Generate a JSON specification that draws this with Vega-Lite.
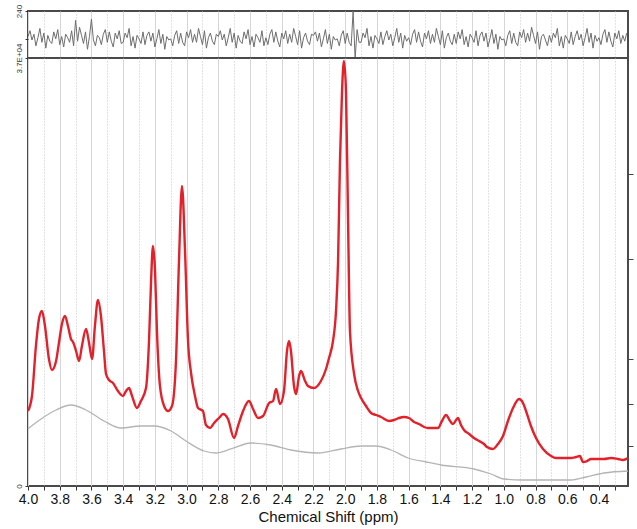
{
  "$schema": "https://vega.github.io/schema/vega-lite/v6.json",
  "background": "white",
  "padding": {"left": 5, "top": 3, "right": 2, "bottom": 2},
  "spacing": 0,
  "bounds": "flush",
  "config": {
    "view": {"stroke": "#4a4a4a", "strokeWidth": 2},
    "font": "Liberation Sans",
    "axis": {"labelFont": "Liberation Sans", "titleFont": "Liberation Sans"}
  },
  "datasets": {
    "fit": [
      {"ppm": 4.000, "v": 6484}, {"ppm": 3.975, "v": 7781}, {"ppm": 3.950, "v": 12103}, {"ppm": 3.931, "v": 14437},
      {"ppm": 3.912, "v": 15129}, {"ppm": 3.893, "v": 13832}, {"ppm": 3.868, "v": 10979}, {"ppm": 3.849, "v": 10028},
      {"ppm": 3.823, "v": 10806}, {"ppm": 3.805, "v": 12362}, {"ppm": 3.786, "v": 14005}, {"ppm": 3.767, "v": 14697},
      {"ppm": 3.748, "v": 13832}, {"ppm": 3.729, "v": 12708}, {"ppm": 3.716, "v": 12449}, {"ppm": 3.697, "v": 11671},
      {"ppm": 3.678, "v": 10806}, {"ppm": 3.660, "v": 12103}, {"ppm": 3.634, "v": 13573}, {"ppm": 3.615, "v": 12362},
      {"ppm": 3.596, "v": 10979}, {"ppm": 3.578, "v": 13832}, {"ppm": 3.559, "v": 16080}, {"ppm": 3.540, "v": 14697},
      {"ppm": 3.521, "v": 11671}, {"ppm": 3.508, "v": 9682}, {"ppm": 3.489, "v": 9164}, {"ppm": 3.464, "v": 8904},
      {"ppm": 3.433, "v": 8213}, {"ppm": 3.401, "v": 7781}, {"ppm": 3.382, "v": 8213}, {"ppm": 3.363, "v": 8472},
      {"ppm": 3.344, "v": 7781}, {"ppm": 3.313, "v": 6743}, {"ppm": 3.288, "v": 7348}, {"ppm": 3.256, "v": 8472},
      {"ppm": 3.237, "v": 12535}, {"ppm": 3.224, "v": 17722}, {"ppm": 3.212, "v": 20748}, {"ppm": 3.199, "v": 18587},
      {"ppm": 3.187, "v": 13400}, {"ppm": 3.168, "v": 8645}, {"ppm": 3.142, "v": 6916}, {"ppm": 3.117, "v": 6484},
      {"ppm": 3.092, "v": 6916}, {"ppm": 3.067, "v": 10806}, {"ppm": 3.048, "v": 19451}, {"ppm": 3.029, "v": 25935},
      {"ppm": 3.010, "v": 20316}, {"ppm": 2.991, "v": 12535}, {"ppm": 2.972, "v": 9769}, {"ppm": 2.947, "v": 7781},
      {"ppm": 2.928, "v": 6743}, {"ppm": 2.897, "v": 6484}, {"ppm": 2.878, "v": 5273}, {"ppm": 2.852, "v": 5014},
      {"ppm": 2.827, "v": 5446}, {"ppm": 2.796, "v": 5879}, {"ppm": 2.770, "v": 6224}, {"ppm": 2.739, "v": 5792},
      {"ppm": 2.701, "v": 4150}, {"ppm": 2.676, "v": 5187}, {"ppm": 2.644, "v": 6484}, {"ppm": 2.607, "v": 7348},
      {"ppm": 2.581, "v": 6657}, {"ppm": 2.550, "v": 5879}, {"ppm": 2.518, "v": 6052}, {"ppm": 2.480, "v": 7175},
      {"ppm": 2.455, "v": 7348}, {"ppm": 2.436, "v": 8386}, {"ppm": 2.411, "v": 7089}, {"ppm": 2.386, "v": 8213},
      {"ppm": 2.367, "v": 11671}, {"ppm": 2.354, "v": 12535}, {"ppm": 2.342, "v": 11671}, {"ppm": 2.323, "v": 8645},
      {"ppm": 2.310, "v": 7953}, {"ppm": 2.291, "v": 9510}, {"ppm": 2.279, "v": 9942}, {"ppm": 2.253, "v": 9077},
      {"ppm": 2.235, "v": 8645}, {"ppm": 2.197, "v": 8472}, {"ppm": 2.153, "v": 9077}, {"ppm": 2.121, "v": 10115},
      {"ppm": 2.102, "v": 11066}, {"ppm": 2.077, "v": 12535}, {"ppm": 2.058, "v": 15129}, {"ppm": 2.045, "v": 19451},
      {"ppm": 2.033, "v": 28096}, {"ppm": 2.020, "v": 34148}, {"ppm": 2.008, "v": 36741}, {"ppm": 1.995, "v": 34148},
      {"ppm": 1.982, "v": 22909}, {"ppm": 1.970, "v": 13400}, {"ppm": 1.944, "v": 9682}, {"ppm": 1.919, "v": 8213},
      {"ppm": 1.900, "v": 7608}, {"ppm": 1.869, "v": 6916}, {"ppm": 1.837, "v": 6311}, {"ppm": 1.806, "v": 6138},
      {"ppm": 1.774, "v": 5965}, {"ppm": 1.724, "v": 5619}, {"ppm": 1.692, "v": 5706}, {"ppm": 1.661, "v": 5879},
      {"ppm": 1.629, "v": 5965}, {"ppm": 1.598, "v": 5879}, {"ppm": 1.566, "v": 5533}, {"ppm": 1.535, "v": 5360},
      {"ppm": 1.503, "v": 5101}, {"ppm": 1.478, "v": 5014}, {"ppm": 1.446, "v": 5014}, {"ppm": 1.415, "v": 5014},
      {"ppm": 1.390, "v": 5619}, {"ppm": 1.364, "v": 6138}, {"ppm": 1.339, "v": 5619}, {"ppm": 1.320, "v": 5360},
      {"ppm": 1.301, "v": 5706}, {"ppm": 1.289, "v": 5879}, {"ppm": 1.270, "v": 5273}, {"ppm": 1.251, "v": 4841},
      {"ppm": 1.219, "v": 4495}, {"ppm": 1.188, "v": 4150}, {"ppm": 1.156, "v": 3890}, {"ppm": 1.125, "v": 3631},
      {"ppm": 1.106, "v": 3372}, {"ppm": 1.068, "v": 3199}, {"ppm": 1.037, "v": 3631}, {"ppm": 1.005, "v": 4323},
      {"ppm": 0.974, "v": 5619}, {"ppm": 0.942, "v": 6743}, {"ppm": 0.904, "v": 7521}, {"ppm": 0.879, "v": 7175},
      {"ppm": 0.860, "v": 6484}, {"ppm": 0.829, "v": 5187}, {"ppm": 0.797, "v": 4150}, {"ppm": 0.753, "v": 3199},
      {"ppm": 0.702, "v": 2594}, {"ppm": 0.671, "v": 2421}, {"ppm": 0.639, "v": 2421}, {"ppm": 0.608, "v": 2421},
      {"ppm": 0.576, "v": 2421}, {"ppm": 0.545, "v": 2507}, {"ppm": 0.520, "v": 2594}, {"ppm": 0.501, "v": 2075},
      {"ppm": 0.475, "v": 2161}, {"ppm": 0.450, "v": 2334}, {"ppm": 0.406, "v": 2334}, {"ppm": 0.368, "v": 2334},
      {"ppm": 0.324, "v": 2421}, {"ppm": 0.280, "v": 2334}, {"ppm": 0.248, "v": 2248}, {"ppm": 0.217, "v": 2421}
    ],
    "base": [
      {"ppm": 4.000, "v": 4950}, {"ppm": 3.918, "v": 5792}, {"ppm": 3.823, "v": 6570}, {"ppm": 3.729, "v": 7002},
      {"ppm": 3.634, "v": 6570}, {"ppm": 3.521, "v": 5619}, {"ppm": 3.414, "v": 5014}, {"ppm": 3.288, "v": 5187},
      {"ppm": 3.206, "v": 5187}, {"ppm": 3.098, "v": 4755}, {"ppm": 3.004, "v": 3890}, {"ppm": 2.890, "v": 3026},
      {"ppm": 2.815, "v": 2853}, {"ppm": 2.720, "v": 3199}, {"ppm": 2.594, "v": 3717}, {"ppm": 2.468, "v": 3544},
      {"ppm": 2.342, "v": 3112}, {"ppm": 2.171, "v": 2853}, {"ppm": 2.027, "v": 3199}, {"ppm": 1.900, "v": 3458},
      {"ppm": 1.806, "v": 3458}, {"ppm": 1.711, "v": 3112}, {"ppm": 1.604, "v": 2421}, {"ppm": 1.490, "v": 2075},
      {"ppm": 1.396, "v": 1815}, {"ppm": 1.188, "v": 1470}, {"ppm": 1.081, "v": 1037}, {"ppm": 0.999, "v": 605},
      {"ppm": 0.891, "v": 519}, {"ppm": 0.734, "v": 519}, {"ppm": 0.576, "v": 519}, {"ppm": 0.482, "v": 778},
      {"ppm": 0.368, "v": 1124}, {"ppm": 0.217, "v": 1297}
    ],
    "res": [
      {"ppm": 4.0000, "r": 20}, {"ppm": 3.9875, "r": 70}, {"ppm": 3.9750, "r": -10}, {"ppm": 3.9625, "r": 40}, {"ppm": 3.9500, "r": -60}, {"ppm": 3.9375, "r": 10},
      {"ppm": 3.9250, "r": 90}, {"ppm": 3.9125, "r": -30}, {"ppm": 3.9000, "r": 50}, {"ppm": 3.8875, "r": -80}, {"ppm": 3.8750, "r": 30}, {"ppm": 3.8625, "r": -20},
      {"ppm": 3.8500, "r": -40}, {"ppm": 3.8375, "r": 60}, {"ppm": 3.8250, "r": 0}, {"ppm": 3.8125, "r": 80}, {"ppm": 3.8000, "r": -50}, {"ppm": 3.7875, "r": 20},
      {"ppm": 3.7750, "r": -70}, {"ppm": 3.7625, "r": 40}, {"ppm": 3.7500, "r": 10}, {"ppm": 3.7375, "r": -30}, {"ppm": 3.7250, "r": 70}, {"ppm": 3.7125, "r": -60},
      {"ppm": 3.7000, "r": 160}, {"ppm": 3.6875, "r": -20}, {"ppm": 3.6750, "r": 100}, {"ppm": 3.6625, "r": 30}, {"ppm": 3.6500, "r": -40}, {"ppm": 3.6375, "r": 60},
      {"ppm": 3.6250, "r": -90}, {"ppm": 3.6125, "r": 20}, {"ppm": 3.6000, "r": 170}, {"ppm": 3.5875, "r": -10}, {"ppm": 3.5750, "r": -60}, {"ppm": 3.5625, "r": 30},
      {"ppm": 3.5500, "r": 10}, {"ppm": 3.5375, "r": -50}, {"ppm": 3.5250, "r": 40}, {"ppm": 3.5125, "r": 80}, {"ppm": 3.5000, "r": -30}, {"ppm": 3.4875, "r": 60},
      {"ppm": 3.4750, "r": -20}, {"ppm": 3.4625, "r": -70}, {"ppm": 3.4500, "r": 50}, {"ppm": 3.4375, "r": 0}, {"ppm": 3.4250, "r": 70}, {"ppm": 3.4125, "r": -40},
      {"ppm": 3.4000, "r": -30}, {"ppm": 3.3875, "r": 50}, {"ppm": 3.3750, "r": 10}, {"ppm": 3.3625, "r": 90}, {"ppm": 3.3500, "r": -60}, {"ppm": 3.3375, "r": 20},
      {"ppm": 3.3250, "r": -80}, {"ppm": 3.3125, "r": 30}, {"ppm": 3.3000, "r": 0}, {"ppm": 3.2875, "r": -40}, {"ppm": 3.2750, "r": 60}, {"ppm": 3.2625, "r": -50},
      {"ppm": 3.2500, "r": 30}, {"ppm": 3.2375, "r": 60}, {"ppm": 3.2250, "r": -20}, {"ppm": 3.2125, "r": 50}, {"ppm": 3.2000, "r": -70}, {"ppm": 3.1875, "r": 0},
      {"ppm": 3.1750, "r": 80}, {"ppm": 3.1625, "r": -40}, {"ppm": 3.1500, "r": 40}, {"ppm": 3.1375, "r": -90}, {"ppm": 3.1250, "r": 20}, {"ppm": 3.1125, "r": -10},
      {"ppm": 3.1000, "r": 0}, {"ppm": 3.0875, "r": -60}, {"ppm": 3.0750, "r": 30}, {"ppm": 3.0625, "r": 70}, {"ppm": 3.0500, "r": -40}, {"ppm": 3.0375, "r": 50},
      {"ppm": 3.0250, "r": -30}, {"ppm": 3.0125, "r": -60}, {"ppm": 3.0000, "r": 60}, {"ppm": 2.9875, "r": 10}, {"ppm": 2.9750, "r": 80}, {"ppm": 2.9625, "r": -30},
      {"ppm": 2.9500, "r": 40}, {"ppm": 2.9375, "r": -30}, {"ppm": 2.9250, "r": 90}, {"ppm": 2.9125, "r": 20}, {"ppm": 2.9000, "r": -50}, {"ppm": 2.8875, "r": 70},
      {"ppm": 2.8750, "r": -80}, {"ppm": 2.8625, "r": 10}, {"ppm": 2.8500, "r": 50}, {"ppm": 2.8375, "r": -20}, {"ppm": 2.8250, "r": -50}, {"ppm": 2.8125, "r": 40},
      {"ppm": 2.8000, "r": 20}, {"ppm": 2.7875, "r": 70}, {"ppm": 2.7750, "r": -10}, {"ppm": 2.7625, "r": 40}, {"ppm": 2.7500, "r": -60}, {"ppm": 2.7375, "r": 10},
      {"ppm": 2.7250, "r": 90}, {"ppm": 2.7125, "r": -30}, {"ppm": 2.7000, "r": 50}, {"ppm": 2.6875, "r": -80}, {"ppm": 2.6750, "r": 30}, {"ppm": 2.6625, "r": -20},
      {"ppm": 2.6500, "r": -40}, {"ppm": 2.6375, "r": 60}, {"ppm": 2.6250, "r": 0}, {"ppm": 2.6125, "r": 80}, {"ppm": 2.6000, "r": -50}, {"ppm": 2.5875, "r": 20},
      {"ppm": 2.5750, "r": -70}, {"ppm": 2.5625, "r": 40}, {"ppm": 2.5500, "r": 10}, {"ppm": 2.5375, "r": -30}, {"ppm": 2.5250, "r": 70}, {"ppm": 2.5125, "r": -60},
      {"ppm": 2.5000, "r": 10}, {"ppm": 2.4875, "r": -50}, {"ppm": 2.4750, "r": 40}, {"ppm": 2.4625, "r": 80}, {"ppm": 2.4500, "r": -30}, {"ppm": 2.4375, "r": 60},
      {"ppm": 2.4250, "r": -20}, {"ppm": 2.4125, "r": -70}, {"ppm": 2.4000, "r": 50}, {"ppm": 2.3875, "r": 0}, {"ppm": 2.3750, "r": 70}, {"ppm": 2.3625, "r": -40},
      {"ppm": 2.3500, "r": 40}, {"ppm": 2.3375, "r": -30}, {"ppm": 2.3250, "r": 90}, {"ppm": 2.3125, "r": 20}, {"ppm": 2.3000, "r": -50}, {"ppm": 2.2875, "r": 70},
      {"ppm": 2.2750, "r": -80}, {"ppm": 2.2625, "r": 10}, {"ppm": 2.2500, "r": 50}, {"ppm": 2.2375, "r": -20}, {"ppm": 2.2250, "r": -50}, {"ppm": 2.2125, "r": 40},
      {"ppm": 2.2000, "r": 30}, {"ppm": 2.1875, "r": 60}, {"ppm": 2.1750, "r": -20}, {"ppm": 2.1625, "r": 50}, {"ppm": 2.1500, "r": -70}, {"ppm": 2.1375, "r": 0},
      {"ppm": 2.1250, "r": 80}, {"ppm": 2.1125, "r": -40}, {"ppm": 2.1000, "r": 40}, {"ppm": 2.0875, "r": -90}, {"ppm": 2.0750, "r": 20}, {"ppm": 2.0625, "r": -10},
      {"ppm": 2.0500, "r": 0}, {"ppm": 2.0375, "r": -60}, {"ppm": 2.0250, "r": 30}, {"ppm": 2.0125, "r": 70}, {"ppm": 2.0000, "r": -40}, {"ppm": 1.9875, "r": 50},
      {"ppm": 1.9750, "r": -30}, {"ppm": 1.9625, "r": -60}, {"ppm": 1.9500, "r": 240}, {"ppm": 1.9375, "r": -170}, {"ppm": 1.9250, "r": 80}, {"ppm": 1.9125, "r": -30},
      {"ppm": 1.9000, "r": -30}, {"ppm": 1.8875, "r": 50}, {"ppm": 1.8750, "r": 10}, {"ppm": 1.8625, "r": 90}, {"ppm": 1.8500, "r": -60}, {"ppm": 1.8375, "r": 20},
      {"ppm": 1.8250, "r": -80}, {"ppm": 1.8125, "r": 30}, {"ppm": 1.8000, "r": 0}, {"ppm": 1.7875, "r": -40}, {"ppm": 1.7750, "r": 60}, {"ppm": 1.7625, "r": -50},
      {"ppm": 1.7500, "r": 20}, {"ppm": 1.7375, "r": 70}, {"ppm": 1.7250, "r": -10}, {"ppm": 1.7125, "r": 40}, {"ppm": 1.7000, "r": -60}, {"ppm": 1.6875, "r": 10},
      {"ppm": 1.6750, "r": 90}, {"ppm": 1.6625, "r": -30}, {"ppm": 1.6500, "r": 50}, {"ppm": 1.6375, "r": -80}, {"ppm": 1.6250, "r": 30}, {"ppm": 1.6125, "r": -20},
      {"ppm": 1.6000, "r": 10}, {"ppm": 1.5875, "r": -50}, {"ppm": 1.5750, "r": 40}, {"ppm": 1.5625, "r": 80}, {"ppm": 1.5500, "r": -30}, {"ppm": 1.5375, "r": 60},
      {"ppm": 1.5250, "r": -20}, {"ppm": 1.5125, "r": -70}, {"ppm": 1.5000, "r": 50}, {"ppm": 1.4875, "r": 0}, {"ppm": 1.4750, "r": 70}, {"ppm": 1.4625, "r": -40},
      {"ppm": 1.4500, "r": 40}, {"ppm": 1.4375, "r": -30}, {"ppm": 1.4250, "r": 90}, {"ppm": 1.4125, "r": 20}, {"ppm": 1.4000, "r": -50}, {"ppm": 1.3875, "r": 70},
      {"ppm": 1.3750, "r": -80}, {"ppm": 1.3625, "r": 10}, {"ppm": 1.3500, "r": 50}, {"ppm": 1.3375, "r": -20}, {"ppm": 1.3250, "r": -50}, {"ppm": 1.3125, "r": 40},
      {"ppm": 1.3000, "r": -40}, {"ppm": 1.2875, "r": 60}, {"ppm": 1.2750, "r": 0}, {"ppm": 1.2625, "r": 80}, {"ppm": 1.2500, "r": -50}, {"ppm": 1.2375, "r": 20},
      {"ppm": 1.2250, "r": -70}, {"ppm": 1.2125, "r": 40}, {"ppm": 1.2000, "r": 10}, {"ppm": 1.1875, "r": -30}, {"ppm": 1.1750, "r": 70}, {"ppm": 1.1625, "r": -60},
      {"ppm": 1.1500, "r": 30}, {"ppm": 1.1375, "r": 60}, {"ppm": 1.1250, "r": -20}, {"ppm": 1.1125, "r": 50}, {"ppm": 1.1000, "r": -70}, {"ppm": 1.0875, "r": 0},
      {"ppm": 1.0750, "r": 80}, {"ppm": 1.0625, "r": -40}, {"ppm": 1.0500, "r": 40}, {"ppm": 1.0375, "r": -90}, {"ppm": 1.0250, "r": 20}, {"ppm": 1.0125, "r": -10},
      {"ppm": 1.0000, "r": 0}, {"ppm": 0.9875, "r": -60}, {"ppm": 0.9750, "r": 30}, {"ppm": 0.9625, "r": 70}, {"ppm": 0.9500, "r": -40}, {"ppm": 0.9375, "r": 50},
      {"ppm": 0.9250, "r": -30}, {"ppm": 0.9125, "r": -60}, {"ppm": 0.9000, "r": 60}, {"ppm": 0.8875, "r": 10}, {"ppm": 0.8750, "r": 80}, {"ppm": 0.8625, "r": -30},
      {"ppm": 0.8500, "r": 50}, {"ppm": 0.8375, "r": -20}, {"ppm": 0.8250, "r": 100}, {"ppm": 0.8125, "r": 30}, {"ppm": 0.8000, "r": -40}, {"ppm": 0.7875, "r": 60},
      {"ppm": 0.7750, "r": -90}, {"ppm": 0.7625, "r": 20}, {"ppm": 0.7500, "r": 40}, {"ppm": 0.7375, "r": -10}, {"ppm": 0.7250, "r": -60}, {"ppm": 0.7125, "r": 30},
      {"ppm": 0.7000, "r": -30}, {"ppm": 0.6875, "r": 50}, {"ppm": 0.6750, "r": 10}, {"ppm": 0.6625, "r": 90}, {"ppm": 0.6500, "r": -60}, {"ppm": 0.6375, "r": 20},
      {"ppm": 0.6250, "r": -80}, {"ppm": 0.6125, "r": 30}, {"ppm": 0.6000, "r": 0}, {"ppm": 0.5875, "r": -40}, {"ppm": 0.5750, "r": 60}, {"ppm": 0.5625, "r": -50},
      {"ppm": 0.5500, "r": 20}, {"ppm": 0.5375, "r": 70}, {"ppm": 0.5250, "r": -10}, {"ppm": 0.5125, "r": 40}, {"ppm": 0.5000, "r": -60}, {"ppm": 0.4875, "r": 10},
      {"ppm": 0.4750, "r": 90}, {"ppm": 0.4625, "r": -30}, {"ppm": 0.4500, "r": 50}, {"ppm": 0.4375, "r": -80}, {"ppm": 0.4250, "r": 30}, {"ppm": 0.4125, "r": -20},
      {"ppm": 0.4000, "r": 10}, {"ppm": 0.3875, "r": -50}, {"ppm": 0.3750, "r": 40}, {"ppm": 0.3625, "r": 80}, {"ppm": 0.3500, "r": -30}, {"ppm": 0.3375, "r": 60},
      {"ppm": 0.3250, "r": -20}, {"ppm": 0.3125, "r": -70}, {"ppm": 0.3000, "r": 50}, {"ppm": 0.2875, "r": 0}, {"ppm": 0.2750, "r": 70}, {"ppm": 0.2625, "r": -40},
      {"ppm": 0.2500, "r": 30}, {"ppm": 0.2375, "r": -20}, {"ppm": 0.2250, "r": 50}
    ]
  },
  "vconcat": [
    {
      "width": 600,
      "height": 47,
      "data": {"name": "res"},
      "mark": {"type": "line", "color": "#6e6e6e", "strokeWidth": 1, "clip": true},
      "encoding": {
        "x": {
          "field": "ppm", "type": "quantitative",
          "scale": {"domain": [4.0, 0.217], "nice": false, "zero": false},
          "axis": {
            "values": [4.0, 3.9, 3.8, 3.7, 3.6, 3.5, 3.4, 3.3, 3.2, 3.1, 3.0, 2.9, 2.8, 2.7, 2.6, 2.5, 2.4, 2.3, 2.2, 2.1, 2.0, 1.9, 1.8, 1.7, 1.6, 1.5, 1.4, 1.3, 1.2, 1.1, 1.0, 0.9, 0.8, 0.7, 0.6, 0.5, 0.4, 0.3],
            "labels": false, "ticks": false, "domain": false, "title": null,
            "grid": true, "gridWidth": 1,
            "gridColor": {"condition": {"test": "round(datum.value*10)%2==1", "value": "#c4c4c4"}, "value": "#d6d6d6"},
            "gridDash": {"condition": {"test": "round(datum.value*10)%2==1", "value": [1, 2]}, "value": []}
          }
        },
        "y": {
          "field": "r", "type": "quantitative",
          "scale": {"domain": [-165, 240], "nice": false, "zero": false},
          "axis": {
            "values": [0, 240], "labelExpr": "datum.value==240?'240':''",
            "labelAngle": -90, "labelFontSize": 8, "labelColor": "#333", "tickColor": "#333",
            "tickSize": 3, "domain": false, "grid": false, "title": null,
            "minExtent": 22, "maxExtent": 22
          }
        }
      }
    },
    {
      "width": 600,
      "height": 428,
      "encoding": {
        "x": {
          "field": "ppm", "type": "quantitative",
          "scale": {"domain": [4.0, 0.217], "nice": false, "zero": false},
          "axis": {
            "values": [4.0, 3.9, 3.8, 3.7, 3.6, 3.5, 3.4, 3.3, 3.2, 3.1, 3.0, 2.9, 2.8, 2.7, 2.6, 2.5, 2.4, 2.3, 2.2, 2.1, 2.0, 1.9, 1.8, 1.7, 1.6, 1.5, 1.4, 1.3, 1.2, 1.1, 1.0, 0.9, 0.8, 0.7, 0.6, 0.5, 0.4, 0.3],
            "labelExpr": "round(datum.value*10)%2==0 ? format(datum.value,'.1f') : ''",
            "labelFontSize": 14, "labelColor": "#111", "labelPadding": 2, "labelFlush": false,
            "tickSize": 4, "tickColor": "#333", "domain": false,
            "title": "Chemical Shift (ppm)", "titleFontSize": 15, "titleFontWeight": "normal",
            "titleColor": "#111", "titlePadding": 3,
            "grid": true, "gridWidth": 1,
            "gridColor": {"condition": {"test": "round(datum.value*10)%2==1", "value": "#c4c4c4"}, "value": "#d6d6d6"},
            "gridDash": {"condition": {"test": "round(datum.value*10)%2==1", "value": [1, 2]}, "value": []}
          }
        }
      },
      "layer": [
        {
          "data": {"name": "base"},
          "mark": {"type": "line", "color": "#b4b4b4", "strokeWidth": 1.3, "interpolate": "monotone"},
          "encoding": {
            "y": {"field": "v", "type": "quantitative", "scale": {"domain": [0, 37000], "nice": false, "zero": false}, "axis": null}
          }
        },
        {
          "data": {"name": "fit"},
          "mark": {"type": "line", "color": "#e3212b", "strokeWidth": 2.4, "interpolate": "monotone"},
          "encoding": {
            "y": {
              "field": "v", "type": "quantitative",
              "scale": {"domain": [0, 37000], "nice": false, "zero": false},
              "axis": {
                "orient": "left", "values": [0, 37000],
                "labelExpr": "datum.value==0?'0':'3.7E+04'",
                "labelAngle": -90, "labelFontSize": 8, "labelColor": "#333", "tickColor": "#333",
                "tickSize": 3, "domain": false, "grid": false, "title": null,
                "minExtent": 22, "maxExtent": 22
              }
            }
          }
        },
        {
          "data": {"name": "base"},
          "mark": {"type": "point", "opacity": 0},
          "encoding": {
            "y": {
              "field": "v", "type": "quantitative",
              "scale": {"domain": [0, 37000], "nice": false, "zero": false},
              "axis": {
                "orient": "right", "values": [3458, 7089, 10979, 19625, 26973],
                "labels": false, "tickSize": 5, "tickColor": "#444", "domain": false, "grid": false, "title": null
              }
            }
          }
        }
      ],
      "resolve": {"axis": {"y": "independent"}}
    }
  ]
}
